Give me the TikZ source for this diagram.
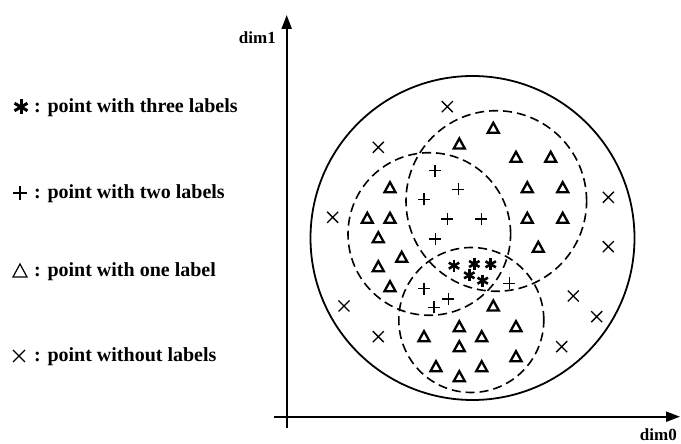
\documentclass[tikz,border=0pt]{standalone}
\usepackage{fontspec}
\setmainfont{Liberation Serif}
\usetikzlibrary{arrows.meta}

\begin{document}
\begin{tikzpicture}[x=1pt, y=1pt,
  axis/.style={line width=2.2pt, -{Triangle[length=14pt,width=10pt]}},
  ring/.style={line width=1.8pt},
  cluster/.style={line width=1.6pt, dash pattern=on 9pt off 5pt},
  legtext/.style={anchor=base west, inner sep=0pt, font=\bfseries\fontsize{20}{24}\selectfont},
  dimlabel/.style={anchor=base east, inner sep=0pt, font=\bfseries\fontsize{17}{20}\selectfont},
  onelab/.pic={\draw[line width=2.3pt, line join=miter] (-5.5,-4.5) -- (5.5,-4.5) -- (0,5.5) -- cycle;},
  twolab/.pic={\draw[line width=1.3pt] (-6,0) -- (6,0) (0,-6) -- (0,6);},
  threelab/.pic={\foreach \a in {90,30,150} \draw[line width=2.6pt] (\a:6) -- (\a+180:6);},
  nolab/.pic={\draw[line width=1.3pt] (-5.5,-5.5) -- (5.5,5.5) (-5.5,5.5) -- (5.5,-5.5);}
]
\useasboundingbox (0,0) rectangle (681,444);

% axes
\coordinate (ybot) at (286.7,16);
\coordinate (ytop) at (286.7,429);
\coordinate (xleft) at (274,27.3);
\coordinate (xright) at (680,27.3);
\draw[axis] (ybot) -- (ytop);
\draw[axis] (xleft) -- (xright);
\node[dimlabel] (dimy) at (276,400.7) {dim1};
\node[dimlabel] (dimx) at (677,3) {dim0};

% whole set and the three label clusters
\draw[ring] (472.5,206) circle[radius=162];
\draw[cluster] (496.3,243) circle[radius=90.3];
\draw[cluster] (429.3,210) circle[radius=81.3];
\draw[cluster] (471.3,124) circle[radius=72.5];

% points
\foreach \p in {(493.3,315.7),(459.3,300),(516,286.7),(550.7,286.7),(390,256.3),
  (527.3,256.3),(562.7,256.3),(367.3,225.7),(390,225.7),(527.3,225.7),(562.7,225.7),
  (378.3,206.3),(538.3,196.7),(401.7,186.7),(378.3,177.3),(390,157.3),(493.3,138),
  (459.3,117.3),(516,117.3),(424,107.3),(481.7,107.3),(459.3,97.3),(516,87.3),
  (436,77.3),(481.7,77.3),(459.3,67.3)}
  \pic at \p {onelab};
\foreach \p in {(435,273.3),(458.3,254.7),(424,244.7),(447.3,225),(481.3,225),
  (435.3,205),(424,155.3),(448.3,145),(434,136.7),(509.3,160.7)}
  \pic at \p {twolab};
\foreach \p in {(454,178.3),(474.3,180),(490.7,179.7),(469.3,168.7),(482.7,163.3)}
  \pic at \p {threelab};
\foreach \p in {(447.3,337.3),(378.3,296.7),(332.7,226.7),(608.3,246.7),(608.3,197.3),
  (344,138),(573.3,148),(596.7,127.3),(378.3,107.3),(561.7,97.3)}
  \pic at \p {nolab};

% legend
\foreach \a in {90,30,150}
  \draw[line width=3pt] ([shift={(\a:7.5)}]21,337) -- ([shift={(\a+180:7.5)}]21,337);
\draw[line width=2.2pt] (13,251) -- (27,251) (20,244) -- (20,258);
\draw[line width=1.2pt, line join=miter] (13,167) -- (27,167) -- (20,180) -- cycle;
\draw[line width=1.3pt] (13,82) -- (25,94) (13,94) -- (25,82);
\node[legtext] (lthree) at (34,331.3) {: point with three labels};
\node[legtext] (ltwo) at (34,245) {: point with two labels};
\node[legtext] (lone) at (34,167) {: point with one label};
\node[legtext] (lnone) at (34,82) {: point without labels};
\end{tikzpicture}
\end{document}
